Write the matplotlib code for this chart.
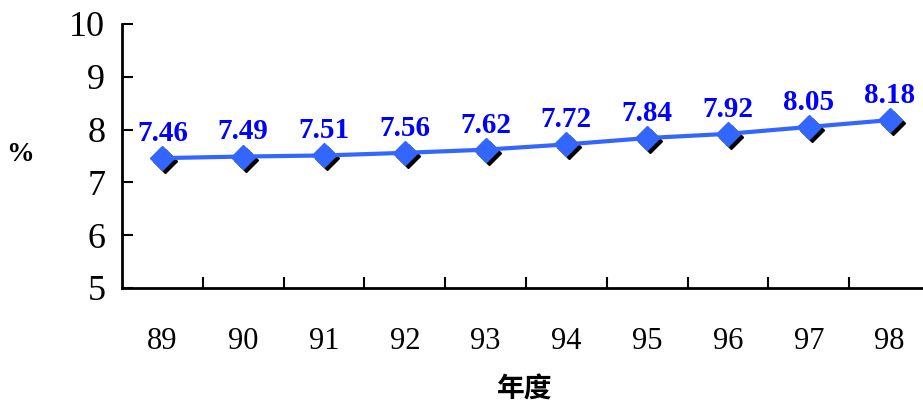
import matplotlib.pyplot as plt
from matplotlib.transforms import offset_copy

years = ["89", "90", "91", "92", "93", "94", "95", "96", "97", "98"]
values = [7.46, 7.49, 7.51, 7.56, 7.62, 7.72, 7.84, 7.92, 8.05, 8.18]
yticks = [5, 6, 7, 8, 9, 10]

fig = plt.figure(figsize=(9.23, 4.05), dpi=100)
ax = fig.add_axes([122 / 923, 1 - 288 / 405, 808 / 923, 264 / 405])

x = list(range(len(years)))

# shadow behind the markers
shadow = offset_copy(ax.transData, fig=fig, x=3, y=-3, units="dots")
ax.plot(x, values, linestyle="none", marker="D", markersize=12,
        color="black", transform=shadow, zorder=2)
ax.plot(x, values, color="#3366ff", linewidth=3, marker="D", markersize=12,
        markerfacecolor="#3366ff", markeredgecolor="#3366ff", zorder=3)

for xi, v in zip(x, values):
    ax.annotate(f"{v:.2f}", (xi, v), xytext=(0, 8), textcoords="offset points",
                ha="center", va="bottom", color="#0000ff", fontsize=21,
                fontweight="bold", family="Liberation Serif")

ax.set_xlim(-0.5, len(years) - 0.5)
ax.set_ylim(5, 10)
ax.set_yticks(yticks)
ax.set_yticklabels([str(t) for t in yticks], family="Liberation Serif", fontsize=26)
ax.set_xticks([i + 0.5 for i in x[:-1]], minor=False)
ax.set_xticklabels([])
ax.set_xticks(x, minor=True)
ax.set_xticklabels(years, minor=True, family="Liberation Serif", fontsize=22)
ax.tick_params(axis="x", which="minor", length=0, pad=28)
ax.tick_params(axis="x", which="major", direction="in", length=8, width=1.5)
ax.tick_params(axis="y", direction="in", length=8, width=1.5, pad=12)

for s in ["top", "right"]:
    ax.spines[s].set_visible(False)
for s in ["left", "bottom"]:
    ax.spines[s].set_linewidth(2)

fig.text(20 / 923, 1 - 155 / 405, "%", ha="center", va="center",
         fontsize=20, fontweight="bold", family="Liberation Serif")
fig.text(525 / 923, 1 - 390 / 405, "年度", ha="center", va="center",
         fontsize=20, fontweight="bold", family=["Noto Sans CJK TC", "DejaVu Sans"])

fig.savefig("out.png", dpi=100)
